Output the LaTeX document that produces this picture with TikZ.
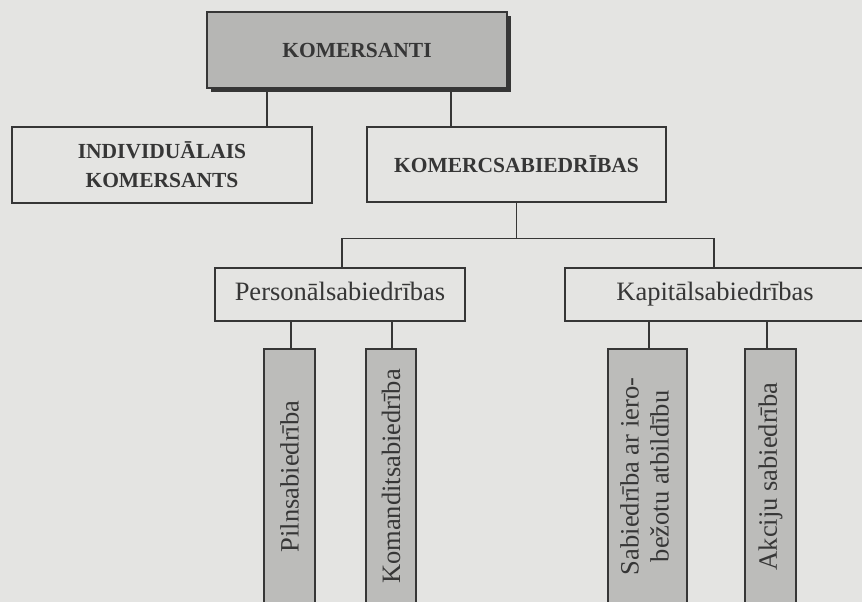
\documentclass[tikz,border=0pt]{standalone}
\usepackage{fontspec}
\setmainfont{Liberation Serif}
\usepackage{graphicx}
\usetikzlibrary{shadows,calc}
\definecolor{paper}{HTML}{E4E4E2}
\definecolor{ink}{HTML}{363636}
\definecolor{boxgray}{HTML}{BCBCBA}
\definecolor{topgray}{HTML}{B6B6B4}
\begin{document}
\begin{tikzpicture}[x=1pt,y=-1pt,
  boxbase/.style={draw=ink, line width=1.3pt, inner sep=0pt, text=ink, align=center},
  capsbox/.style={boxbase, font=\fontsize{21.5}{29}\selectfont\bfseries},
  lowbox/.style={boxbase, font=\fontsize{26.5}{30}\selectfont},
  midbox/.style={lowbox, text height=18pt, text depth=6pt, minimum height=53pt},
  vbox/.style={lowbox, fill=boxgray, minimum height=255pt},
  conn/.style={draw=ink, line width=1.3pt}]
\useasboundingbox (0,0) rectangle (862,602);
\clip (0,0) rectangle (862,602);
\fill[paper] (0,0) rectangle (862,602);

% top level
\node[capsbox, fill=topgray, minimum width=300pt, minimum height=76pt,
      general shadow={fill=ink, shadow xshift=4pt, shadow yshift=-4pt}]
      (top) at (357,50) {KOMERSANTI};

% second level
\node[capsbox, minimum width=300pt, minimum height=76pt] (indiv) at (162,165)
      {INDIVIDUĀLAIS\\KOMERSANTS};
\node[capsbox, minimum width=299pt, minimum height=75pt] (komerc) at (516.5,164.5)
      {KOMERCSABIEDRĪBAS};

% third level
\node[midbox, minimum width=250pt] (person) at (340,294.5) {Personālsabiedrības};
\node[midbox, minimum width=300pt] (kapital) at (715,294.5) {Kapitālsabiedrības};

% fourth level
\node[vbox, minimum width=51pt] (b1) at (289.5,476.5) {\rotatebox{90}{Pilnsabiedrība}};
\node[vbox, minimum width=50pt] (b2) at (391,476.5) {\rotatebox{90}{Komanditsabiedrība}};
\node[vbox, minimum width=79pt] (b3) at (647.5,476.5)
      {\rotatebox{90}{\begin{tabular}{@{}c@{}}Sabiedrība ar iero-\\bežotu atbildību\end{tabular}}};
\node[vbox, minimum width=51pt] (b4) at (770.5,476.5) {\rotatebox{90}{Akciju sabiedrība}};

% connectors
\draw[conn] ([xshift=105pt]indiv.north) -- ([xshift=105pt]indiv.north |- top.south);
\draw[conn] ([xshift=-65.5pt]komerc.north) -- ([xshift=-65.5pt]komerc.north |- top.south);
\draw[conn] (komerc.south) -- ++(0,36) coordinate (bar);
\draw[conn] ([xshift=2pt]person.north) |- (bar) -| ([xshift=-1pt]kapital.north);
\draw[conn] ([xshift=1.5pt]b1.north) -- ([xshift=1.5pt]b1.north |- person.south);
\draw[conn] ([xshift=1pt]b2.north) -- ([xshift=1pt]b2.north |- person.south);
\draw[conn] ([xshift=1.5pt]b3.north) -- ([xshift=1.5pt]b3.north |- kapital.south);
\draw[conn] ([xshift=-3.5pt]b4.north) -- ([xshift=-3.5pt]b4.north |- kapital.south);
\end{tikzpicture}
\end{document}
